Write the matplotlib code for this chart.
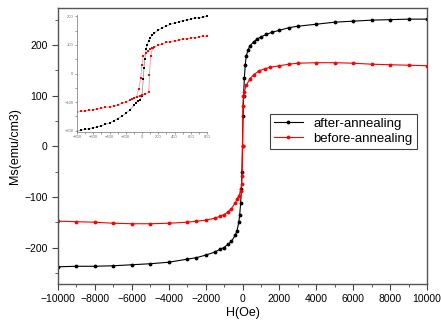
import numpy as np
import matplotlib
matplotlib.use('Agg')
import matplotlib.pyplot as plt
from matplotlib.ticker import MultipleLocator

plt.rcParams['font.family'] = ['Liberation Sans', 'DejaVu Sans']

# main loop data (H in Oe, Ms in emu/cm3)
H_after = [-10000, -9000, -8000, -7000, -6000, -5000, -4000, -3000, -2500, -2000,
           -1500, -1200, -1000, -800, -600, -400, -300, -200, -150, -100, -60, -30,
           0, 30, 60, 100, 150, 200, 300, 400, 600, 800, 1000, 1300, 1600, 2000,
           2500, 3000, 4000, 5000, 6000, 7000, 8000, 9000, 10000]
M_after = [-238, -237, -237, -236, -234, -232, -229, -223, -220, -215,
           -209, -203, -200, -194, -188, -176, -167, -150, -135, -112, -85, -50,
           0, 60, 100, 135, 160, 178, 190, 198, 206, 212, 216, 221, 225, 229,
           234, 237, 241, 245, 247, 249, 250, 251, 251]

H_before = [-10000, -9000, -8000, -7000, -6000, -5000, -4000, -3000, -2500, -2000,
            -1500, -1200, -1000, -800, -600, -400, -300, -200, -100, -50, -20,
            0, 20, 50, 100, 200, 400, 600, 900, 1200, 1500, 2000, 2500, 3000,
            4000, 5000, 6000, 7000, 8000, 9000, 10000]
M_before = [-148, -149, -150, -152, -153, -153, -152, -150, -148, -146,
            -142, -138, -135, -130, -123, -112, -105, -98, -88, -75, -59,
            0, 80, 100, 108, 120, 133, 141, 149, 153, 156, 159, 162, 164,
            165, 165, 164, 162, 161, 160, 159]

# inset (low field) data
Hi_after = [-800, -750, -700, -650, -600, -550, -500, -450, -400, -350, -300, -250,
            -200, -150, -100, -75, -50, -25, 0, 15, 25, 35, 50, 65, 80, 100, 125,
            150, 200, 250, 300, 350, 400, 450, 500, 550, 600, 650, 700, 750, 800]
Mi_after = [-202, -199, -196, -193, -190, -187, -183, -178, -173, -166, -158, -150,
            -140, -128, -112, -103, -96, -92, -80, -20, 20, 50, 85, 100, 115, 125, 134,
            141, 152, 160, 166, 172, 177, 181, 185, 188, 191, 194, 196, 198, 200]

Hi_before_dn = [800, 750, 700, 650, 600, 550, 500, 450, 400, 350, 300, 250, 200,
                150, 125, 100, 75, 50, 16, 0, -16, -40, -66, -100, -125, -150, -200,
                -250, -300, -350, -400, -450, -500, -550, -600, -650, -700, -750, -800]
Mi_before_dn = [132, 130, 128, 126, 124, 122, 120, 117, 115, 112, 109, 104, 99,
                93, 89, 85, 80, 72, 61, 30, -16, -55, -81, -87, -90, -93, -99,
                -104, -110, -113, -116, -119, -122, -124, -127, -129, -131, -133, -135]
Hi_before_up = [-66, -30, 0, 40, 83, 92, 105, 130]
Mi_before_up = [-81, -78, -76, -72, -66, -4, 60, 88]

fig = plt.figure(figsize=(4.41, 3.24), dpi=100)
ax = fig.add_axes([58/441, 1 - 284/324, 369/441, 276/324])

ax.plot(H_after, M_after, '-', color='black', lw=0.8, marker='.', ms=3.5,
        label='after-annealing')
ax.plot(H_before, M_before, '-', color='red', lw=0.8, marker='.', ms=3.5,
        label='before-annealing')

ax.set_xlim(-10000, 10000)
ax.set_ylim(-272, 273)
ax.xaxis.set_major_locator(MultipleLocator(2000))
ax.xaxis.set_minor_locator(MultipleLocator(1000))
ax.yaxis.set_major_locator(MultipleLocator(100))
ax.yaxis.set_minor_locator(MultipleLocator(50))
ax.tick_params(which='both', direction='out', top=False, right=False,
               labelsize=7.5, color='#444444')
ax.tick_params(which='major', length=4)
ax.tick_params(which='minor', length=2.5)
for s in ax.spines.values():
    s.set_color('#555555')
    s.set_linewidth(1.0)

ax.set_xlabel('H(Oe)', fontsize=9, labelpad=2)
ax.set_ylabel('Ms(emu/cm3)', fontsize=9, labelpad=2)

leg = ax.legend(loc='upper left', bbox_to_anchor=(0.556, 0.641), fontsize=9.5,
                numpoints=1, handlelength=2.2, borderpad=0.3, labelspacing=0.2,
                fancybox=False, framealpha=1, edgecolor='#444444')
leg.get_frame().set_linewidth(0.8)

# inset
axi = fig.add_axes([77/441, 1 - 132/324, 130/441, 117/324])
axi.plot(Hi_after, Mi_after, '-', color='#888888', lw=0.5)
axi.plot(Hi_after, Mi_after, 's', color='black', ms=2.0, mew=0)
axi.plot(Hi_before_dn, Mi_before_dn, '-', color='#ff8080', lw=0.5)
axi.plot(Hi_before_dn, Mi_before_dn, 's', color='red', ms=2.0, mew=0)
axi.plot(Hi_before_up, Mi_before_up, '-', color='#ff8080', lw=0.5)
axi.plot(Hi_before_up, Mi_before_up, 's', color='red', ms=2.0, mew=0)
axi.set_xlim(-800, 800)
axi.set_ylim(-205, 205)
axi.set_xticks(np.arange(-800, 801, 200))
axi.set_yticks(np.arange(-200, 201, 100))
axi.xaxis.set_minor_locator(MultipleLocator(100))
axi.yaxis.set_minor_locator(MultipleLocator(50))
axi.tick_params(which='both', direction='out', labelsize=3, colors='#777777',
                length=1.5, width=0.5, pad=1)
axi.spines['top'].set_visible(False)
axi.spines['right'].set_visible(False)
for s in ['left', 'bottom']:
    axi.spines[s].set_color('#888888')
    axi.spines[s].set_linewidth(0.6)
axi.patch.set_alpha(0)

fig.savefig('out.png', dpi=100)
